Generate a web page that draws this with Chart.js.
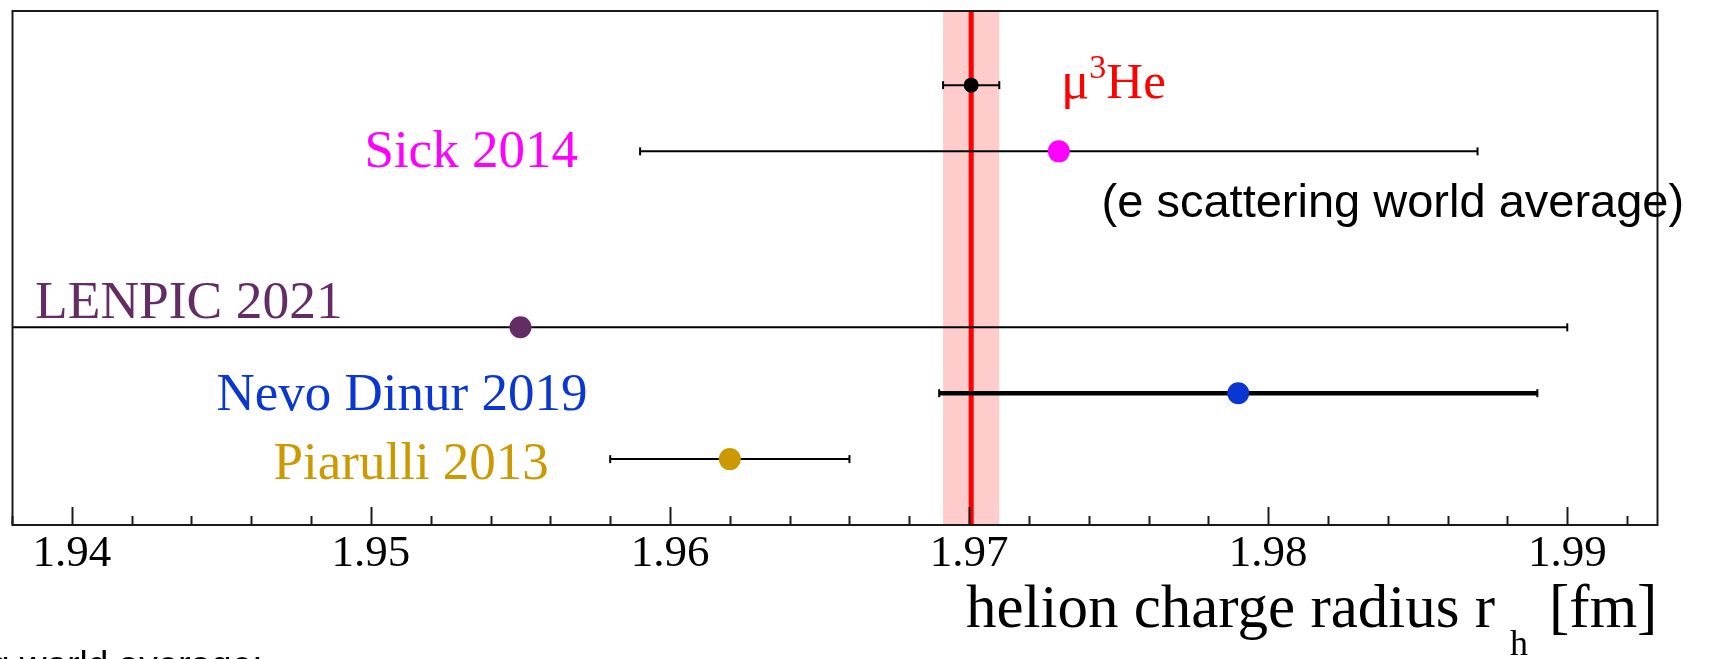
<!DOCTYPE html>
<html>
<head>
<meta charset="utf-8">
<script src="https://cdn.jsdelivr.net/npm/chart.js@4.4.1/dist/chart.umd.min.js"></script>
<style>
  html, body { margin: 0; padding: 0; background: #ffffff; }
  canvas { display: block; }
</style>
</head>
<body>
<canvas id="chart" width="1710" height="659"></canvas>
<script>
// Helion charge radius determinations, value and 1-sigma uncertainty in fm
const measurements = ['μ3He', 'Sick 2014', 'LENPIC 2021', 'Nevo Dinur 2019', 'Piarulli 2013'];
const radius       = [1.97007, 1.973, 1.955, 1.979, 1.962];
const uncertainty  = [0.00094, 0.014, 0.035, 0.010, 0.004];
// vertical row of each measurement (arbitrary units on a hidden axis)
const rowLevel     = [6.675, 5.67, 3, 2, 1];
const xTickLabels  = ['1.94', '1.95', '1.96', '1.97', '1.98', '1.99'];

// axis ranges
const X_MIN = 1.938, X_MAX = 1.993, X_STEP = 0.002;
const Y_MIN = 0, Y_MAX = 7.8;

// styling
const markerColor = ['#000000', '#ff00ff', '#632c65', '#0a36d2', '#cc9900'];
const markerSize  = [7.5, 11, 11, 11, 11];
const barWidth    = [2, 2, 2, 4.5, 2];
const SERIF = '"Liberation Serif", "Times New Roman", serif';
const SANS  = '"Liberation Sans", Arial, sans-serif';

// text placed in data coordinates (x in fm, y on the row axis = text baseline)
const textLabels = [
  { parts: [{ t: 'μ', size: 53 }, { t: '3', size: 34, rise: 20 }, { t: 'He', size: 51 }],
    color: '#ff0000', x: 1.97307, y: 6.485, align: 'left', font: SERIF },
  { parts: [{ t: 'Sick 2014', size: 53 }], color: '#ff00ff', x: 1.95692, y: 5.4255, align: 'right', font: SERIF },
  { parts: [{ t: '(e scattering world average)', size: 47 }], color: '#000000', x: 1.97443, y: 4.675, align: 'left', font: SANS },
  { parts: [{ t: 'LENPIC 2021', size: 53.5 }], color: '#632c65', x: 1.93877, y: 3.135, align: 'left', font: SERIF },
  { parts: [{ t: 'Nevo Dinur 2019', size: 53 }], color: '#0a36d2', x: 1.95724, y: 1.75, align: 'right', font: SERIF },
  { parts: [{ t: 'Piarulli 2013', size: 53 }], color: '#cc9900', x: 1.95595, y: 0.70, align: 'right', font: SERIF }
];

function drawParts(ctx, parts, font, x, y, align) {
  let total = 0;
  parts.forEach(p => { ctx.font = p.size + 'px ' + font; total += ctx.measureText(p.t).width; });
  let cx = align === 'right' ? x - total : x;
  ctx.textAlign = 'left';
  ctx.textBaseline = 'alphabetic';
  parts.forEach(p => {
    ctx.font = p.size + 'px ' + font;
    ctx.fillText(p.t, cx, y - (p.rise || 0));
    cx += ctx.measureText(p.t).width;
  });
}

// Shaded 1-sigma band of the muonic helium result
const bandPlugin = {
  id: 'muonicBand',
  beforeDatasetsDraw(chart) {
    const { ctx, chartArea: a, scales: { x } } = chart;
    const lo = x.getPixelForValue(radius[0] - uncertainty[0]);
    const hi = x.getPixelForValue(radius[0] + uncertainty[0]);
    ctx.save();
    ctx.fillStyle = 'rgba(255, 0, 0, 0.2)';
    ctx.fillRect(lo, a.top, hi - lo, a.bottom - a.top);
    ctx.restore();
  }
};

// Frame, inward tick marks and text labels
const framePlugin = {
  id: 'frameAndText',
  afterDatasetsDraw(chart) {
    const { ctx, chartArea: a, scales: { x, y } } = chart;
    ctx.save();
    ctx.strokeStyle = '#1a1a1a';
    ctx.lineWidth = 2;
    x.ticks.forEach(t => {
      const px = Math.round(x.getPixelForValue(t.value)) + 0.5;
      const major = xTickLabels.some(l => Math.abs(Number(l) - t.value) < 1e-7);
      const len = major ? 18 : 9;
      ctx.beginPath();
      ctx.moveTo(px, a.bottom);
      ctx.lineTo(px, a.bottom - len);
      ctx.stroke();
    });
    ctx.strokeRect(a.left + 0.5, a.top, a.right - a.left, a.bottom - a.top);

    textLabels.forEach(l => {
      ctx.fillStyle = l.color;
      drawParts(ctx, l.parts, l.font, x.getPixelForValue(l.x), y.getPixelForValue(l.y), l.align);
    });
    ctx.restore();
  },
  afterDraw(chart) {
    const { ctx } = chart;
    ctx.save();
    ctx.fillStyle = '#000000';
    ctx.textBaseline = 'alphabetic';
    ctx.textAlign = 'left';
    // axis title with subscript
    let cx = 966;
    ctx.font = '61px ' + SERIF;
    ctx.fillText('helion charge radius r', cx, 627);
    cx += ctx.measureText('helion charge radius r').width + 15;
    ctx.font = '36px ' + SERIF;
    ctx.fillText('h', cx, 655);
    cx += ctx.measureText('h').width + 21;
    ctx.font = '61px ' + SERIF;
    ctx.fillText('[fm]', cx, 627);
    // caption line running below the frame
    ctx.font = '37px ' + SANS;
    ctx.fillText('g world average:', -11, 677);
    ctx.restore();
  }
};

const datasets = [];

// central values
datasets.push({
  type: 'scatter',
  label: 'values',
  order: 0,
  data: radius.map((r, i) => ({ x: r, y: rowLevel[i] })),
  pointBackgroundColor: markerColor,
  pointBorderWidth: 0,
  pointRadius: markerSize,
  pointHoverRadius: markerSize
});

// horizontal error bars with end caps
measurements.forEach((name, i) => {
  datasets.push({
    type: 'line',
    label: name,
    order: 1,
    data: [
      { x: radius[i] - uncertainty[i], y: rowLevel[i] },
      { x: radius[i] + uncertainty[i], y: rowLevel[i] }
    ],
    borderColor: '#000000',
    borderWidth: barWidth[i],
    pointStyle: 'line',
    rotation: 90,
    pointRadius: 4,
    pointHoverRadius: 4,
    pointBorderColor: '#000000',
    pointBorderWidth: 2,
    fill: false
  });
});

// muonic helium central line
datasets.push({
  type: 'line',
  label: 'μ3He line',
  order: 2,
  data: [{ x: radius[0], y: Y_MIN }, { x: radius[0], y: Y_MAX }],
  borderColor: '#ff0000',
  borderWidth: 5,
  pointRadius: 0,
  fill: false
});

new Chart(document.getElementById('chart'), {
  type: 'scatter',
  data: { datasets },
  plugins: [bandPlugin, framePlugin],
  options: {
    responsive: false,
    animation: false,
    events: [],
    devicePixelRatio: 1,
    layout: { padding: { left: 12, right: 53, top: 5, bottom: 0 } },
    plugins: { legend: { display: false }, tooltip: { enabled: false } },
    scales: {
      x: {
        type: 'linear',
        min: X_MIN,
        max: X_MAX,
        grid: { display: false, drawTicks: false },
        border: { display: false },
        ticks: {
          stepSize: X_STEP,
          includeBounds: false,
          autoSkip: false,
          maxRotation: 0,
          padding: 2,
          color: '#000000',
          font: { family: SERIF, size: 45 },
          callback: (v) => xTickLabels.find(l => Math.abs(Number(l) - v) < 1e-7) || ''
        },
        afterFit: (s) => { s.height = 134; }
      },
      y: {
        type: 'linear',
        display: false,
        min: Y_MIN,
        max: Y_MAX
      }
    }
  }
});
</script>
</body>
</html>
